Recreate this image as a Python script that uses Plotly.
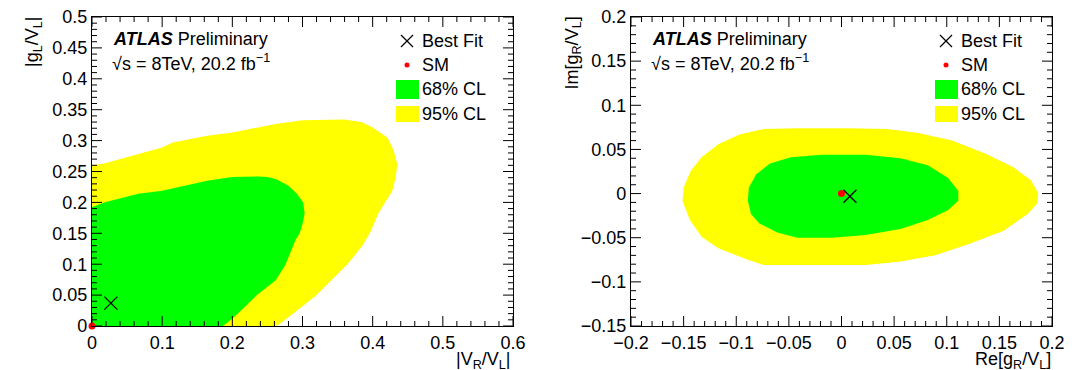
import plotly.graph_objects as go
from plotly.subplots import make_subplots

# ---------------- data ----------------
# Left panel: |g_L/V_L| vs |V_R/V_L|
left95_x = [0.0, 0.0, 0.017, 0.066, 0.100, 0.115, 0.164, 0.200, 0.262, 0.300, 0.335, 0.359, 0.384,
            0.400, 0.421, 0.430, 0.435, 0.433, 0.428, 0.418, 0.408, 0.396, 0.384, 0.364, 0.345,
            0.320, 0.300, 0.280, 0.267, 0.262]
left95_y = [0.0, 0.260, 0.263, 0.278, 0.289, 0.297, 0.308, 0.313, 0.327, 0.333, 0.334, 0.334, 0.330,
            0.321, 0.305, 0.284, 0.262, 0.241, 0.219, 0.200, 0.182, 0.150, 0.128, 0.100, 0.078,
            0.050, 0.032, 0.014, 0.003, 0.0]
left68_x = [0.0, 0.0, 0.017, 0.066, 0.100, 0.164, 0.200, 0.237, 0.250, 0.262, 0.280, 0.292, 0.301,
            0.303, 0.300, 0.296, 0.290, 0.276, 0.262, 0.235, 0.218, 0.203, 0.190, 0.186]
left68_y = [0.0, 0.192, 0.200, 0.214, 0.219, 0.235, 0.241, 0.242, 0.241, 0.238, 0.227, 0.214, 0.200,
            0.182, 0.165, 0.150, 0.139, 0.100, 0.074, 0.050, 0.031, 0.015, 0.003, 0.0]
left_best_x = [0.027]
left_best_y = [0.037]
left_sm_x = [0.0]
left_sm_y = [0.0]

# Right panel: Im[g_R/V_L] vs Re[g_R/V_L]
right95_x = [-0.151, -0.150, -0.143, -0.133, -0.117, -0.097, -0.074, -0.042, 0.007, 0.043, 0.072,
             0.105, 0.137, 0.163, 0.180, 0.187, 0.186, 0.177, 0.154, 0.121, 0.089, 0.056, 0.023,
             -0.026, -0.074, -0.091, -0.117, -0.133, -0.144, -0.149]
right95_y = [-0.008, 0.007, 0.026, 0.041, 0.056, 0.067, 0.073, 0.074, 0.074, 0.073, 0.069,
             0.060, 0.045, 0.030, 0.015, 0.000, -0.011, -0.023, -0.042, -0.057, -0.070, -0.077, -0.081,
             -0.081, -0.081, -0.074, -0.062, -0.049, -0.030, -0.015]
right68_x = [-0.089, -0.088, -0.081, -0.068, -0.048, -0.019, 0.023, 0.056, 0.082, 0.101, 0.111,
             0.111, 0.101, 0.082, 0.056, 0.023, -0.009, -0.042, -0.061, -0.078, -0.086]
right68_y = [-0.008, 0.007, 0.022, 0.034, 0.041, 0.044, 0.044, 0.040, 0.032, 0.018, 0.003,
             -0.008, -0.019, -0.030, -0.040, -0.047, -0.050, -0.050, -0.044, -0.034, -0.023]
right_best_x = [0.008]
right_best_y = [-0.003]
right_sm_x = [0.0]
right_sm_y = [0.0]

# tick values / labels
left_xtickvals = [0, 0.1, 0.2, 0.3, 0.4, 0.5, 0.6]
left_xticktext = ["0", "0.1", "0.2", "0.3", "0.4", "0.5", "0.6"]
left_ytickvals = [0, 0.05, 0.1, 0.15, 0.2, 0.25, 0.3, 0.35, 0.4, 0.45, 0.5]
left_yticktext = ["0", "0.05", "0.1", "0.15", "0.2", "0.25", "0.3", "0.35", "0.4", "0.45", "0.5"]
right_xtickvals = [-0.2, -0.15, -0.1, -0.05, 0, 0.05, 0.1, 0.15, 0.2]
right_xticktext = ["\u22120.2", "\u22120.15", "\u22120.1", "\u22120.05", "0", "0.05", "0.1", "0.15", "0.2"]
right_ytickvals = [-0.15, -0.1, -0.05, 0, 0.05, 0.1, 0.15, 0.2]
right_yticktext = ["\u22120.15", "\u22120.1", "\u22120.05", "0", "0.05", "0.1", "0.15", "0.2"]

legend_labels = ["Best Fit", "SM", "68% CL", "95% CL"]
atlas_label = "<b><i>ATLAS</i></b> Preliminary"
energy_label = "\u221as = 8TeV, 20.2 fb<sup>\u22121</sup>"
left_xtitle = "|V<sub>R</sub>/V<sub>L</sub>|"
left_ytitle = "|g<sub>L</sub>/V<sub>L</sub>|"
right_xtitle = "Re[g<sub>R</sub>/V<sub>L</sub>]"
right_ytitle = "Im[g<sub>R</sub>/V<sub>L</sub>]"

# ---------------- styling ----------------
W, H = 1078, 370
ML, MR, MT, MB = 92, 26, 17, 44
PW, PH = W - ML - MR, H - MT - MB
PANEL_W = 421
FONT = "Liberation Sans, Arial, Helvetica, sans-serif"
GREEN = "#00ff00"
YELLOW = "#ffff00"
RED = "#ff0000"
MAJOR_LEN, MINOR_LEN = 10, 5

def px(x):
    return (x - ML) / PW

def py(y):
    return (H - MB - y) / PH

fig = make_subplots(rows=1, cols=2, horizontal_spacing=118 / PW)

def minor_values(lo, hi, step, majors):
    n = int(round((hi - lo) / step))
    out = []
    for i in range(n + 1):
        v = round(lo + i * step, 6)
        if all(abs(v - m) > step / 10 for m in majors):
            out.append(v)
    return out

def tick_trace(col, xr, yr, xticks, yticks, xminor_step, yminor_step):
    # tick lengths converted from pixels to data units via the axis scales
    ux = (xr[1] - xr[0]) / PANEL_W
    uy = (yr[1] - yr[0]) / PH
    xs, ys = [], []
    for vals, ln in ((xticks, MAJOR_LEN), (minor_values(xr[0], xr[1], xminor_step, xticks), MINOR_LEN)):
        for v in vals:
            xs += [v, v, None, v, v, None]
            ys += [yr[0], yr[0] + ln * uy, None, yr[1], yr[1] - ln * uy, None]
    for vals, ln in ((yticks, MAJOR_LEN), (minor_values(yr[0], yr[1], yminor_step, yticks), MINOR_LEN)):
        for v in vals:
            xs += [xr[0], xr[0] + ln * ux, None, xr[1], xr[1] - ln * ux, None]
            ys += [v, v, None, v, v, None]
    fig.add_trace(go.Scatter(x=xs, y=ys, mode="lines", line=dict(color="black", width=1),
                             showlegend=False, hoverinfo="skip", connectgaps=False),
                  row=1, col=col)

def add_panel(col, x95, y95, x68, y68, bx, by, sx, sy):
    fig.add_trace(go.Scatter(x=x95, y=y95, mode="lines", fill="toself", fillcolor=YELLOW,
                             line=dict(width=0, color=YELLOW), showlegend=False, hoverinfo="skip"),
                  row=1, col=col)
    fig.add_trace(go.Scatter(x=x68, y=y68, mode="lines", fill="toself", fillcolor=GREEN,
                             line=dict(width=0, color=GREEN), showlegend=False, hoverinfo="skip"),
                  row=1, col=col)

def add_points(col, bx, by, sx, sy):
    fig.add_trace(go.Scatter(x=bx, y=by, mode="markers",
                             marker=dict(symbol="x-thin", size=13, line=dict(width=1.3, color="black")),
                             showlegend=False), row=1, col=col)
    fig.add_trace(go.Scatter(x=sx, y=sy, mode="markers", cliponaxis=False,
                             marker=dict(symbol="circle", size=7, color=RED, line=dict(width=0)),
                             showlegend=False), row=1, col=col)

add_panel(1, left95_x, left95_y, left68_x, left68_y, left_best_x, left_best_y, left_sm_x, left_sm_y)
add_panel(2, right95_x, right95_y, right68_x, right68_y, right_best_x, right_best_y, right_sm_x, right_sm_y)
tick_trace(1, [0, 0.6], [0, 0.5], left_xtickvals, left_ytickvals, 0.02, 0.01)
tick_trace(2, [-0.2, 0.2], [-0.15, 0.2], right_xtickvals, right_ytickvals, 0.01, 0.01)
add_points(1, left_best_x, left_best_y, left_sm_x, left_sm_y)
add_points(2, right_best_x, right_best_y, right_sm_x, right_sm_y)

fig.update_layout(template="simple_white", width=W, height=H,
                  margin=dict(l=ML, r=MR, t=MT, b=MB),
                  paper_bgcolor="white", plot_bgcolor="white", showlegend=False)

common = dict(ticks="", showline=True, linecolor="black", linewidth=1.2, mirror=True,
              showgrid=False, zeroline=False, automargin=False,
              tickfont=dict(family=FONT, size=18, color="black"))

fig.update_xaxes(range=[0, 0.6], tickmode="array", tickvals=left_xtickvals, ticktext=left_xticktext,
                 row=1, col=1, **common)
fig.update_yaxes(range=[0, 0.5], tickmode="array", tickvals=left_ytickvals, ticktext=left_yticktext,
                 row=1, col=1, **common)
fig.update_xaxes(range=[-0.2, 0.2], tickmode="array", tickvals=right_xtickvals, ticktext=right_xticktext,
                 row=1, col=2, **common)
fig.update_yaxes(range=[-0.15, 0.2], tickmode="array", tickvals=right_ytickvals, ticktext=right_yticktext,
                 row=1, col=2, **common)

annotations = []
shapes = []
for dx, xt, yt, xtx_end, yt_x in [
    (0, left_xtitle, left_ytitle, 513, 33),
    (539, right_xtitle, right_ytitle, 1053, 573),
]:
    annotations.append(dict(x=px(111 + dx), y=py(39), xref="paper", yref="paper", text=atlas_label,
                            showarrow=False, xanchor="left", yanchor="middle",
                            font=dict(family=FONT, size=18, color="black")))
    annotations.append(dict(x=px(110 + dx), y=py(62), xref="paper", yref="paper", text=energy_label,
                            showarrow=False, xanchor="left", yanchor="middle",
                            font=dict(family=FONT, size=18, color="black")))
    annotations.append(dict(x=px(xtx_end), y=py(347), xref="paper", yref="paper", text=xt,
                            showarrow=False, xanchor="right", yanchor="top",
                            font=dict(family=FONT, size=18, color="black")))
    annotations.append(dict(x=px(yt_x), y=py(15), xref="paper", yref="paper", text=yt,
                            showarrow=False, xanchor="center", yanchor="top", textangle=-90,
                            font=dict(family=FONT, size=18, color="black")))
    for lab, yc in zip(legend_labels, [41, 65, 89, 114]):
        annotations.append(dict(x=px(420 + dx), y=py(yc), xref="paper", yref="paper", text=lab,
                                showarrow=False, xanchor="left", yanchor="middle",
                                font=dict(family=FONT, size=18, color="black")))
    shapes.append(dict(type="line", xref="paper", yref="paper", x0=px(401 + dx), y0=py(35),
                       x1=px(413 + dx), y1=py(47), opacity=1, line=dict(color="black", width=1.3)))
    shapes.append(dict(type="line", xref="paper", yref="paper", x0=px(401 + dx), y0=py(47),
                       x1=px(413 + dx), y1=py(35), opacity=1, line=dict(color="black", width=1.3)))
    shapes.append(dict(type="circle", xref="paper", yref="paper", x0=px(404.5 + dx), y0=py(62.5),
                       x1=px(409.5 + dx), y1=py(67.5), opacity=1, fillcolor=RED, line=dict(width=0)))
    shapes.append(dict(type="rect", xref="paper", yref="paper", x0=px(396 + dx), y0=py(80),
                       x1=px(419 + dx), y1=py(99), opacity=1, fillcolor=GREEN, line=dict(width=0)))
    shapes.append(dict(type="rect", xref="paper", yref="paper", x0=px(396 + dx), y0=py(106),
                       x1=px(419 + dx), y1=py(122), opacity=1, fillcolor=YELLOW, line=dict(width=0)))

fig.update_layout(annotations=annotations, shapes=shapes)
fig.write_html("out.html")
